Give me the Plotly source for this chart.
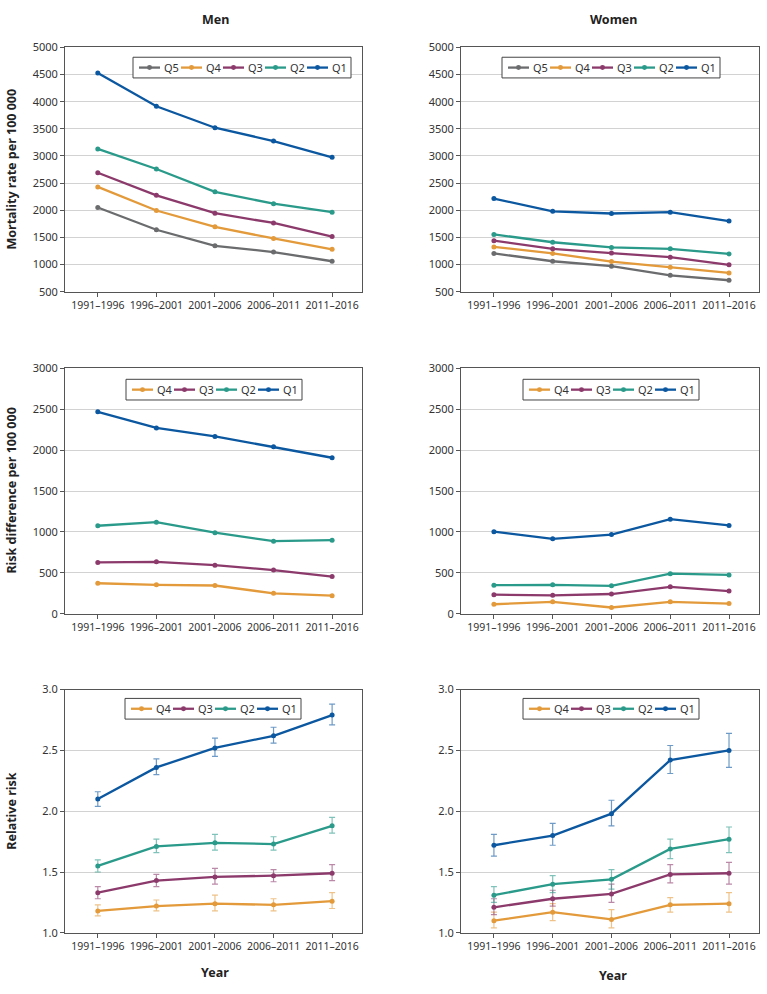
import plotly.graph_objects as go

W, H = 767, 994

periods = ["1991–1996", "1996–2001", "2001–2006", "2006–2011", "2011–2016"]
groups = ["Q5", "Q4", "Q3", "Q2", "Q1"]
colors = {"Q5": "#6b6c6e", "Q4": "#e39a3b", "Q3": "#8c3a6c", "Q2": "#2a9a8a", "Q1": "#0b57a0"}
err_colors = {"Q4": "rgba(227,154,59,0.6)", "Q3": "rgba(140,58,108,0.6)",
              "Q2": "rgba(42,154,138,0.6)", "Q1": "rgba(11,87,160,0.6)"}

# mortality rate per 100 000
men_rate = {
    "Q5": [2050, 1640, 1345, 1230, 1060],
    "Q4": [2430, 1995, 1695, 1480, 1280],
    "Q3": [2690, 2275, 1945, 1765, 1515],
    "Q2": [3130, 2760, 2340, 2120, 1965],
    "Q1": [4530, 3915, 3520, 3275, 2975],
}
women_rate = {
    "Q5": [1205, 1060, 970, 800, 710],
    "Q4": [1325, 1205, 1055, 950, 845],
    "Q3": [1440, 1290, 1210, 1135, 995],
    "Q2": [1555, 1410, 1315, 1290, 1195],
    "Q1": [2215, 1980, 1940, 1965, 1800],
}

# risk difference per 100 000
men_rd = {
    "Q4": [373, 353, 345, 249, 221],
    "Q3": [628, 635, 594, 534, 454],
    "Q2": [1076, 1120, 992, 888, 900],
    "Q1": [2470, 2273, 2169, 2042, 1908],
}
women_rd = {
    "Q4": [116, 145, 76, 145, 124],
    "Q3": [233, 225, 241, 329, 277],
    "Q2": [349, 353, 341, 490, 474],
    "Q1": [1004, 916, 968, 1157, 1080],
}

# relative risk with 95% CI
men_rr = {
    "Q4": [1.18, 1.22, 1.24, 1.23, 1.26],
    "Q3": [1.33, 1.43, 1.46, 1.47, 1.49],
    "Q2": [1.55, 1.71, 1.74, 1.73, 1.88],
    "Q1": [2.10, 2.36, 2.52, 2.62, 2.79],
}
men_rr_lo = {
    "Q4": [1.14, 1.18, 1.18, 1.18, 1.20],
    "Q3": [1.28, 1.38, 1.40, 1.42, 1.43],
    "Q2": [1.50, 1.66, 1.68, 1.68, 1.82],
    "Q1": [2.04, 2.30, 2.45, 2.56, 2.71],
}
men_rr_hi = {
    "Q4": [1.23, 1.27, 1.31, 1.28, 1.33],
    "Q3": [1.38, 1.48, 1.53, 1.52, 1.56],
    "Q2": [1.60, 1.77, 1.81, 1.79, 1.95],
    "Q1": [2.16, 2.43, 2.60, 2.69, 2.88],
}
women_rr = {
    "Q4": [1.10, 1.17, 1.11, 1.23, 1.24],
    "Q3": [1.21, 1.28, 1.32, 1.48, 1.49],
    "Q2": [1.31, 1.40, 1.44, 1.69, 1.77],
    "Q1": [1.72, 1.80, 1.98, 2.42, 2.50],
}
women_rr_lo = {
    "Q4": [1.04, 1.10, 1.04, 1.17, 1.17],
    "Q3": [1.15, 1.22, 1.25, 1.41, 1.40],
    "Q2": [1.25, 1.33, 1.36, 1.61, 1.66],
    "Q1": [1.63, 1.72, 1.88, 2.31, 2.36],
}
women_rr_hi = {
    "Q4": [1.17, 1.24, 1.19, 1.29, 1.33],
    "Q3": [1.28, 1.35, 1.40, 1.56, 1.58],
    "Q2": [1.38, 1.47, 1.52, 1.77, 1.87],
    "Q1": [1.81, 1.90, 2.09, 2.54, 2.64],
}

FONT = "Noto Sans"

# panel boxes in pixels: (left, right, top, bottom)
boxes = [
    (65, 362, 40, 288), (461, 759, 40, 288),
    (65, 362, 366, 615), (461, 759, 366, 615),
    (65, 362, 692, 939), (461, 759, 692, 939),
]
# legend box top-left in pixels
legend_pos = [(133, 50), (502, 50), (126, 377), (523, 377), (125, 701), (523, 701)]

panels = [
    (men_rate, None, None), (women_rate, None, None),
    (men_rd, None, None), (women_rd, None, None),
    (men_rr, men_rr_lo, men_rr_hi), (women_rr, women_rr_lo, women_rr_hi),
]
yranges = [[500, 5000], [500, 5000], [0, 3000], [0, 3000], [1.0, 3.0], [1.0, 3.0]]
ydticks = [500, 500, 500, 500, 0.5, 0.5]
yformats = ["", "", "", "", ".1f", ".1f"]


def px(x, y):
    return x / W, 1 - y / H


fig = go.Figure()
layout = {}
shapes = []
annos = []

for i, (data, lo, hi) in enumerate(panels):
    n = i + 1
    sfx = "" if n == 1 else str(n)
    for g in groups:
        if g not in data:
            continue
        ey = None
        if lo is not None:
            ey = dict(type="data", symmetric=False,
                      array=[h - v for h, v in zip(hi[g], data[g])],
                      arrayminus=[v - l for v, l in zip(data[g], lo[g])],
                      color=err_colors[g], thickness=1.2, width=3)
        fig.add_trace(go.Scatter(
            x=periods, y=data[g], name=g, mode="lines+markers",
            line=dict(color=colors[g], width=2.3),
            marker=dict(color=colors[g], size=5),
            error_y=ey, showlegend=False,
            xaxis="x" + sfx, yaxis="y" + sfx,
        ))

    l, r, t, b = boxes[i]
    layout["xaxis" + sfx] = dict(
        domain=[l / W, r / W], anchor="y" + sfx, type="category",
        range=[-0.56, 4.51], showline=True, mirror=True, linecolor="#555555",
        linewidth=1, showgrid=False, ticks="outside", ticklen=4, tickcolor="#555555",
        tickfont=dict(family=FONT, size=10.5, color="#333333"), zeroline=False,
    )
    layout["yaxis" + sfx] = dict(
        domain=[1 - b / H, 1 - t / H], anchor="x" + sfx, range=yranges[i],
        dtick=ydticks[i], tick0=0, tickformat=yformats[i],
        showline=True, mirror=True, linecolor="#555555", linewidth=1,
        showgrid=True, gridcolor="#d2d2d2", gridwidth=1.2, zeroline=False,
        ticks="outside", ticklen=4, tickcolor="#555555",
        tickfont=dict(family=FONT, size=11, color="#333333"),
    )

    # boxed legend drawn as layout decoration
    keys = [g for g in groups if g in data]
    lx, ly = legend_pos[i]
    bw = 6 + (len(keys) - 1) * 42 + 38 + 6
    x0, y0 = px(lx, ly)
    x1, y1 = px(lx + bw, ly + 21)
    shapes.append(dict(type="rect", xref="paper", yref="paper", x0=x0, y0=y0, x1=x1, y1=y1,
                       line=dict(color="#444444", width=1), fillcolor="white", layer="above"))
    yc = ly + 10.5
    for k, g in enumerate(keys):
        sx = lx + 6 + k * 42
        a, c = px(sx, yc)
        e, _ = px(sx + 21, yc)
        shapes.append(dict(type="line", xref="paper", yref="paper", x0=a, y0=c, x1=e, y1=c,
                           line=dict(color=colors[g], width=2.3), layer="above"))
        m0, n0 = px(sx + 10.5 - 2.5, yc - 2.5)
        m1, n1 = px(sx + 10.5 + 2.5, yc + 2.5)
        shapes.append(dict(type="circle", xref="paper", yref="paper", x0=m0, y0=n0, x1=m1, y1=n1,
                           line=dict(color=colors[g], width=0), fillcolor=colors[g], layer="above"))
        tx, ty = px(sx + 23, yc)
        annos.append(dict(text=g, x=tx, y=ty, xref="paper", yref="paper", showarrow=False,
                          xanchor="left", yanchor="middle",
                          font=dict(family=FONT, size=11, color="#333333")))

titles = [
    ("Men", 215, 12, 0), ("Women", 613, 12, 0),
    ("Year", 215, 979, 0), ("Year", 613, 982, 0),
    ("Mortality rate per 100 000", 12, 164, -90),
    ("Risk difference per 100 000", 12, 490, -90),
    ("Relative risk", 12, 816, -90),
]
for text, x, y, ang in titles:
    ax, ay = px(x, y)
    annos.append(dict(text="<b>" + text + "</b>", x=ax, y=ay,
                      xref="paper", yref="paper", showarrow=False,
                      textangle=ang, xanchor="center", yanchor="middle",
                      font=dict(family=FONT, size=12.5, color="#222222")))

fig.update_layout(**layout)
fig.update_layout(width=W, height=H, margin=dict(l=0, r=0, t=0, b=0),
                  paper_bgcolor="white", plot_bgcolor="white",
                  font=dict(family=FONT), showlegend=False,
                  shapes=shapes, annotations=annos)

page_css = ("document.documentElement.style.margin='0';"
            "document.documentElement.style.padding='0';"
            "document.documentElement.style.overflow='hidden';"
            "document.body.style.margin='0';"
            "document.body.style.padding='0';"
            "document.body.style.overflow='hidden';")

fig.write_html("out.html", config={"displayModeBar": False}, post_script=page_css)
